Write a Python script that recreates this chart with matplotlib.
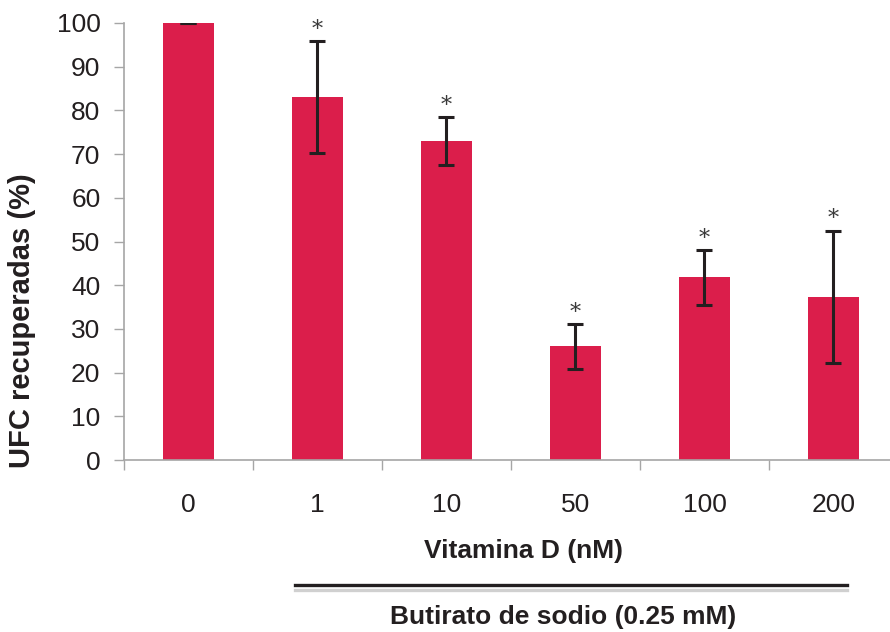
import matplotlib
matplotlib.use("Agg")
import matplotlib.pyplot as plt
from matplotlib.lines import Line2D
import numpy as np

plt.rcParams['font.family'] = ['Liberation Sans', 'DejaVu Sans']

categories = ["0", "1", "10", "50", "100", "200"]
recovered = [100.0, 83.0, 73.0, 26.0, 41.8, 37.3]
error = [0.0, 12.8, 5.5, 5.2, 6.3, 15.2]
significant = [False, True, True, True, True, True]
yticks = [0, 10, 20, 30, 40, 50, 60, 70, 80, 90, 100]

bar_color = "#DB1E4B"
err_color = "#231F20"
axis_color = "#A6A6A6"
text_color = "#231F20"
fs = 19

fig = plt.figure(figsize=(8.9, 6.32), dpi=100)
ax = fig.add_axes([124 / 890, 1 - 460 / 632, 774 / 890, 437 / 632])

x = np.arange(len(categories))
ax.bar(x, recovered, width=0.40, color=bar_color, zorder=2)
ax.errorbar(x, recovered, yerr=error, fmt="none", ecolor=err_color,
            elinewidth=2.2, capsize=6, capthick=2.2, zorder=3)

for xi, v, e, s in zip(x, recovered, error, significant):
    if s:
        ax.annotate("*", (xi, v + e), xytext=(0, 8), textcoords="offset points",
                    ha="center", va="center", fontsize=16, color="#3a3a3a",
                    family="DejaVu Serif")

ax.set_xlim(-0.5, 5.5)
ax.set_ylim(0, 100)
ax.set_yticks(yticks)
ax.set_xticks(x)
ax.set_xticklabels(categories)
ax.set_xticks(np.arange(-0.5, 6.0, 1.0), minor=True)
ax.tick_params(axis="x", which="major", length=0, pad=24, labelsize=fs, labelcolor=text_color)
ax.tick_params(axis="x", which="minor", length=7, width=1, color=axis_color)
ax.tick_params(axis="y", length=7, width=1, color=axis_color, pad=10,
               labelsize=fs, labelcolor=text_color)

for side in ("top", "right"):
    ax.spines[side].set_visible(False)
for side in ("left", "bottom"):
    ax.spines[side].set_color(axis_color)
    ax.spines[side].set_linewidth(1.2)

fig.text(22 / 890, 1 - 321 / 632, "UFC recuperadas (%)", rotation=90, ha="center", va="center",
         fontsize=21, fontweight="bold", color=text_color)

fig.text(523 / 890, 1 - 551 / 632, "Vitamina D (nM)", ha="center", va="center",
         fontsize=fs, fontweight="bold", color=text_color)
fig.add_artist(Line2D([295 / 890, 847 / 890], [1 - 585 / 632] * 2, color="#231F20", lw=2.4))
fig.add_artist(Line2D([295 / 890, 847 / 890], [1 - 590 / 632] * 2, color="#D0D0D0", lw=2.4))
fig.text(563 / 890, 1 - 617 / 632, "Butirato de sodio (0.25 mM)", ha="center", va="center",
         fontsize=fs, fontweight="bold", color=text_color)

fig.savefig("out.png", dpi=100)
